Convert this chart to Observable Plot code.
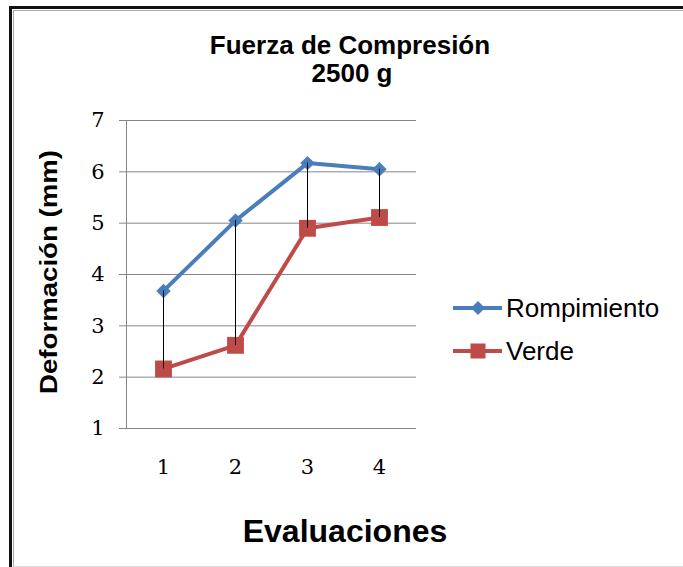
<!DOCTYPE html>
<html>
<head>
<meta charset="utf-8">
<script src="https://cdn.jsdelivr.net/npm/d3@7"></script>
<script src="https://cdn.jsdelivr.net/npm/@observablehq/plot@0.6"></script>
<style>
  html, body { margin: 0; padding: 0; background: #fff; }
  #wrap { position: relative; width: 683px; height: 567px; overflow: hidden; background: #fff; }
  #border { position: absolute; left: 9px; top: 6px; width: 700px; height: 600px; border-left: 3px solid #111; border-top: 3px solid #111; }
  #inner { position: absolute; left: 13px; top: 10px; width: 700px; height: 555px; border-left: 1px solid #aaa; border-top: 1px solid #aaa; border-bottom: 1px solid #ddd; }
  .t { position: absolute; font-family: "Liberation Sans", Arial, sans-serif; color: #000; white-space: nowrap; }
  #plot { position: absolute; left: 0; top: 0; }
</style>
</head>
<body>
<div id="wrap">
  <div id="border"></div>
  <div id="inner"></div>
  <div id="plot"></div>
  <div class="t" id="title1" style="left:350px;top:45px;font-weight:bold;font-size:26px;transform:translate(-50%,-50%);">Fuerza de Compresión</div>
  <div class="t" id="title2" style="left:352px;top:73px;font-weight:bold;font-size:26px;transform:translate(-50%,-50%);">2500 g</div>
  <div class="t" id="ylab" style="left:49px;top:272px;font-weight:bold;font-size:24px;transform:translate(-50%,-50%) rotate(-90deg) scaleX(1.15);">Deformación (mm)</div>
  <div class="t" id="xlab" style="left:345px;top:531px;font-weight:bold;font-size:32px;transform:translate(-50%,-50%);">Evaluaciones</div>
  <div id="legend"></div>
</div>
<script>
const evaluaciones = [1, 2, 3, 4];
const rompimiento = [3.68, 5.05, 6.17, 6.05];
const verde = [2.16, 2.62, 4.90, 5.11];
const seriesNames = ["Rompimiento", "Verde"];
const seriesColors = ["#4A7EBB", "#BE4B48"];
const yTicks = [1, 2, 3, 4, 5, 6, 7];

const rows = evaluaciones.map((e, i) => ({eval: e, romp: rompimiento[i], verde: verde[i]}));
const longRows = [];
seriesNames.forEach((s, k) => {
  const vals = k === 0 ? rompimiento : verde;
  evaluaciones.forEach((e, i) => longRows.push({serie: s, eval: e, value: vals[i]}));
});

const chart = Plot.plot({
  width: 683,
  height: 567,
  marginLeft: 126,
  marginRight: 267,
  marginTop: 120,
  marginBottom: 139,
  style: {background: "transparent", fontFamily: "'DejaVu Serif', serif", fontSize: "21px", color: "#000"},
  x: {type: "point", domain: evaluaciones, padding: 0.5},
  y: {domain: [1, 7], ticks: yTicks},
  color: {domain: seriesNames, range: seriesColors},
  marks: [
    Plot.gridY(yTicks.filter(d => d > 1), {stroke: "#868686", strokeOpacity: 1, strokeWidth: 1}),
    Plot.ruleY([1], {stroke: "#868686", strokeWidth: 1}),
    Plot.frame({anchor: "left", stroke: "#868686", strokeWidth: 1}),
    Plot.axisY({ticks: yTicks, tickSize: 7, tickPadding: 15, fontSize: 21, fontFamily: "'DejaVu Serif', serif", stroke: "#868686", label: null, tickFormat: d => String(d)}),
    Plot.axisX({tickSize: 0, tickPadding: 31, fontSize: 21, fontFamily: "'DejaVu Serif', serif", label: null}),
    Plot.line(longRows, {x: "eval", y: "value", z: "serie", stroke: "serie", strokeWidth: 4}),
    Plot.dot(longRows.filter(d => d.serie === "Rompimiento"), {x: "eval", y: "value", symbol: "diamond2", r: 6.5, fill: "serie", stroke: "none"}),
    Plot.dot(longRows.filter(d => d.serie === "Verde"), {x: "eval", y: "value", symbol: "square", r: 9.5, fill: "serie", stroke: "none"}),
    Plot.ruleX(rows, {x: "eval", y1: "verde", y2: "romp", stroke: "#000", strokeWidth: 1})
  ]
});
document.getElementById("plot").appendChild(chart);

// legend
const legend = document.getElementById("legend");
const legY = [308, 351];
seriesNames.forEach((s, k) => {
  const sw = document.createElementNS("http://www.w3.org/2000/svg", "svg");
  sw.setAttribute("width", 52); sw.setAttribute("height", 20);
  sw.style.position = "absolute"; sw.style.left = "452px"; sw.style.top = (legY[k] - 10) + "px";
  const ln = document.createElementNS("http://www.w3.org/2000/svg", "line");
  ln.setAttribute("x1", 1); ln.setAttribute("x2", 50); ln.setAttribute("y1", 10); ln.setAttribute("y2", 10);
  ln.setAttribute("stroke", seriesColors[k]); ln.setAttribute("stroke-width", 4);
  sw.appendChild(ln);
  if (k === 0) {
    const p = document.createElementNS("http://www.w3.org/2000/svg", "path");
    p.setAttribute("d", "M26,3 L33,10 L26,17 L19,10 Z");
    p.setAttribute("fill", seriesColors[k]);
    sw.appendChild(p);
  } else {
    const r = document.createElementNS("http://www.w3.org/2000/svg", "rect");
    r.setAttribute("x", 18.5); r.setAttribute("y", 2.5); r.setAttribute("width", 15); r.setAttribute("height", 15);
    r.setAttribute("fill", seriesColors[k]);
    sw.appendChild(r);
  }
  legend.appendChild(sw);
  const t = document.createElement("div");
  t.className = "t";
  t.textContent = s;
  t.style.left = "506px"; t.style.top = (legY[k] + 1) + "px";
  t.style.fontSize = "26px";
  t.style.transform = "translateY(-52%)";
  legend.appendChild(t);
});
</script>
</body>
</html>
